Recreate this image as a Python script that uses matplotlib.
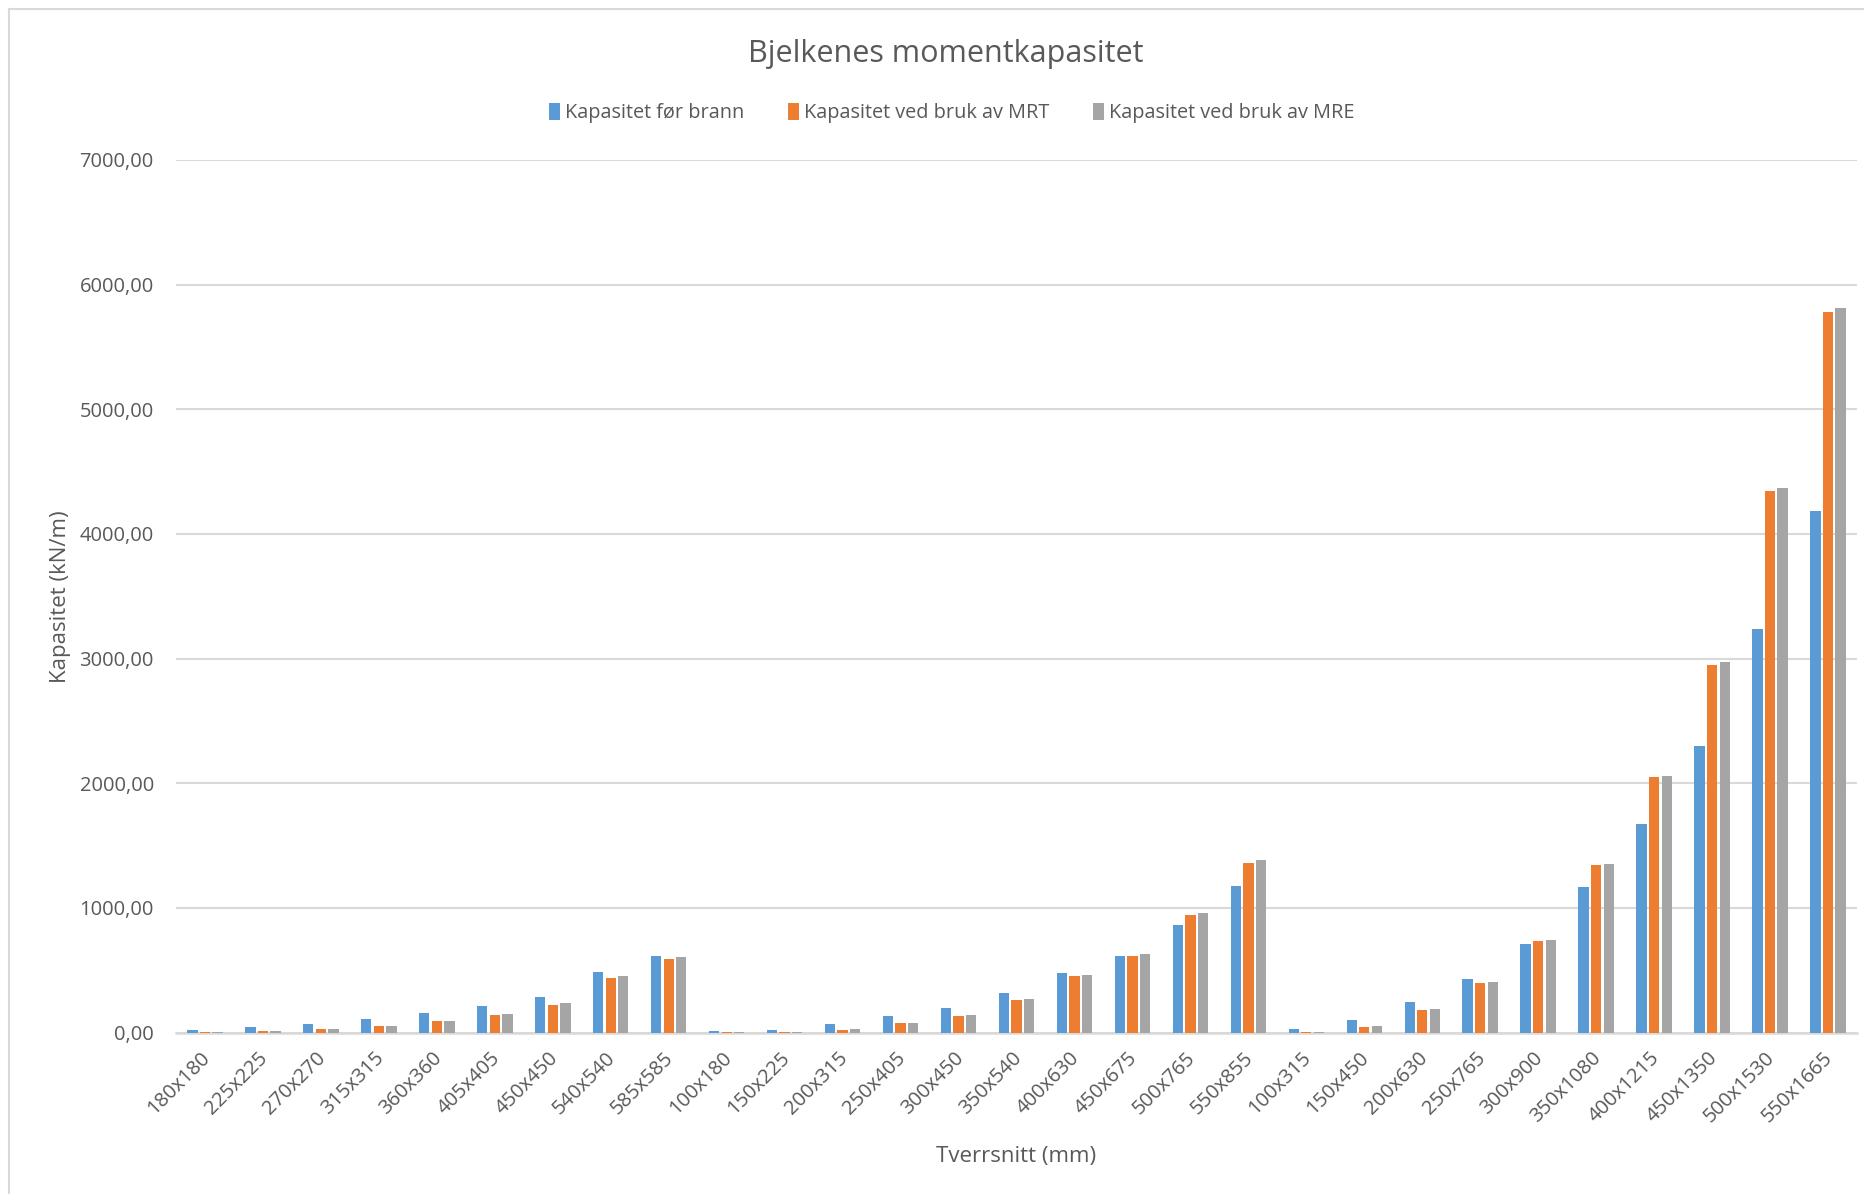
import matplotlib
matplotlib.use("Agg")
import matplotlib.pyplot as plt
from matplotlib.lines import Line2D
from matplotlib.ticker import FuncFormatter
from matplotlib.transforms import ScaledTranslation
import numpy as np

plt.rcParams['font.family'] = ['Open Sans', 'DejaVu Sans']

# Cross sections (mm)
sections = ["180x180", "225x225", "270x270", "315x315", "360x360", "405x405",
            "450x450", "540x540", "585x585", "100x180", "150x225", "200x315",
            "250x405", "300x450", "350x540", "400x630", "450x675", "500x765",
            "550x855", "100x315", "150x450", "200x630", "250x765", "300x900",
            "350x1080", "400x1215", "450x1350", "500x1530", "550x1665"]

# Moment capacity (kN/m)
kap_for_brann = [21, 43, 70, 107, 155, 214, 286, 486, 612,
                 12, 24, 67, 131, 193, 313, 476, 612, 864, 1176,
                 32, 99, 244, 432, 710, 1169, 1676, 2300, 3235, 4182]
kap_mrt = [1, 13, 27, 51, 94, 144, 222, 438, 588,
           1, 5, 24, 75, 131, 259, 452, 615, 939, 1356,
           8, 46, 180, 397, 735, 1340, 2046, 2952, 4342, 5784]
kap_mre = [1, 13, 29, 56, 96, 152, 233, 454, 607,
           1, 5, 27, 80, 139, 267, 460, 631, 960, 1382,
           8, 51, 185, 402, 740, 1351, 2056, 2971, 4366, 5813]

series_names = ["Kapasitet før brann", "Kapasitet ved bruk av MRT",
                "Kapasitet ved bruk av MRE"]
colors = ["#5B9BD5", "#ED7D31", "#A5A5A5"]
text_color = "#595959"
grid_color = "#D9D9D9"

fig = plt.figure(figsize=(18.65, 11.94), dpi=100)
ax = fig.add_axes([176 / 1865, 1 - 1032.5 / 1194,
                   (1857 - 176) / 1865, (1032.5 - 160) / 1194])

x = np.arange(len(sections))
pitch = 0.217
width = 0.178
for i, (vals, name, col) in enumerate(zip([kap_for_brann, kap_mrt, kap_mre],
                                          series_names, colors)):
    ax.bar(x + (i - 1) * pitch, vals, width=width, color=col, label=name,
           zorder=3)

ax.set_xlim(-0.5, len(sections) - 0.5)
ax.set_ylim(0, 7000)
ax.set_yticks(np.arange(0, 7001, 1000))
ax.yaxis.set_major_formatter(FuncFormatter(lambda v, p: f"{v:.2f}".replace(".", ",")))
ax.grid(axis='y', color=grid_color, linewidth=1.5, zorder=0)
ax.set_axisbelow(True)

for side in ['top', 'right', 'left']:
    ax.spines[side].set_visible(False)
ax.spines['bottom'].set_color(grid_color)
ax.spines['bottom'].set_linewidth(1.8)

ax.tick_params(axis='y', length=0, pad=16, labelsize=14.5, labelcolor=text_color)
ax.tick_params(axis='x', length=0, pad=11, labelsize=14.5, labelcolor=text_color)
ax.set_xticks(x)
ax.set_xticklabels(sections, rotation=45, ha='right', va='top',
                   rotation_mode='anchor')
shift = ScaledTranslation(-5 / 100, 0, fig.dpi_scale_trans)
for lbl in ax.get_xticklabels():
    lbl.set_transform(lbl.get_transform() + shift)

ax.set_xlabel("Tverrsnitt (mm)", fontsize=16, color=text_color, labelpad=14)
ax.set_ylabel("Kapasitet (kN/m)", fontsize=16, color=text_color, labelpad=6)

fig.text(946 / 1865, 1 - 54 / 1194, "Bjelkenes momentkapasitet",
         ha='center', va='center', fontsize=22, color=text_color)

ax.legend(loc='center', bbox_to_anchor=(952 / 1865, 1 - 113 / 1194),
          bbox_transform=fig.transFigure, ncol=3, frameon=False,
          fontsize=14.3, labelcolor=text_color, handlelength=0.55,
          handleheight=0.95, handletextpad=0.25, columnspacing=2.2)

# Chart frame (left and top edges)
fig.add_artist(Line2D([9 / 1865, 9 / 1865], [0, 1 - 9 / 1194],
                      transform=fig.transFigure, color="#D9D9D9", linewidth=1.5))
fig.add_artist(Line2D([9 / 1865, 1], [1 - 9 / 1194, 1 - 9 / 1194],
                      transform=fig.transFigure, color="#D9D9D9", linewidth=1.5))

fig.savefig("out.png", dpi=100, facecolor="white")
